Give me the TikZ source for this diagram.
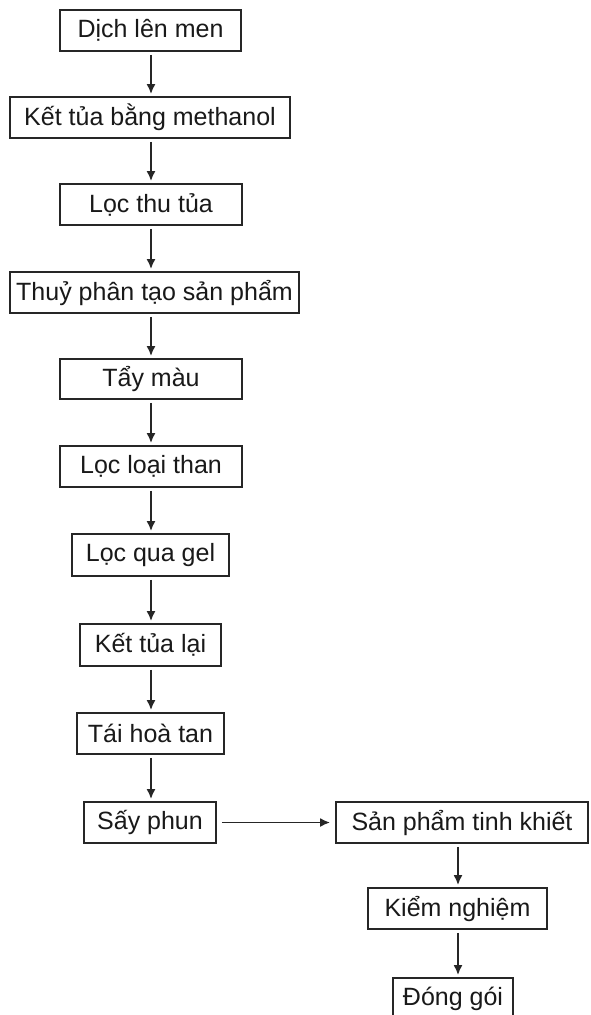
\documentclass[tikz,border=0pt]{standalone}
\usepackage{fontspec}
\setmainfont{Liberation Sans}
\usetikzlibrary{arrows.meta}
\begin{document}
\begin{tikzpicture}[x=1pt,y=-1pt,
  box/.style={draw=black!85,line width=1.8pt,rectangle,inner sep=0pt,minimum height=41pt,font=\fontsize{25}{28}\selectfont,text=black!90},
  arr/.style={draw=black!85,line width=1.8pt,-{Latex[length=10pt,width=9pt]},shorten <=3pt,shorten >=2pt}]
\useasboundingbox (0,0) rectangle (590,1015);
\fill[white] (0,0) rectangle (590,1015);
\coordinate (axis) at (151,0);
\coordinate (axisb) at (458,0);
\node[box,minimum width=181pt] (n1) at (150.5,30.5) {Dịch lên men};
\node[box,minimum width=280pt] (n2) at (150,117.5) {Kết tủa bằng methanol};
\node[box,minimum width=182pt] (n3) at (151,204.5) {Lọc thu tủa};
\node[box,minimum width=289pt] (n4) at (154.5,292.5) {Thuỷ phân tạo sản phẩm};
\node[box,minimum width=182pt,minimum height=40pt] (n5) at (151,379) {Tẩy màu};
\node[box,minimum width=182pt] (n6) at (151,466.5) {Lọc loại than};
\node[box,minimum width=157pt,minimum height=42pt] (n7) at (150.5,555) {Lọc qua gel};
\node[box,minimum width=141pt,minimum height=42pt] (n8) at (150.5,645) {Kết tủa lại};
\node[box,minimum width=147pt] (n9) at (150.5,733.5) {Tái hoà tan};
\node[box,minimum width=132pt] (n10) at (150,822.5) {Sấy phun};
\node[box,minimum width=252pt] (n11) at (462,822.5) {Sản phẩm tinh khiết};
\node[box,minimum width=179pt] (n12) at (457.5,908.5) {Kiểm nghiệm};
\node[box,minimum width=120pt] (n13) at (453,998.5) {Đóng gói};
\foreach \a/\b in {n1/n2,n2/n3,n3/n4,n4/n5,n5/n6,n6/n7,n7/n8,n8/n9,n9/n10}
  \draw[arr] (\a.south -| axis) -- (\b.north -| axis);
\draw[arr,shorten <=5pt,shorten >=5pt] (n10.east) -- (n11.west);
\foreach \a/\b in {n11/n12,n12/n13}
  \draw[arr] (\a.south -| axisb) -- (\b.north -| axisb);
\end{tikzpicture}
\end{document}
